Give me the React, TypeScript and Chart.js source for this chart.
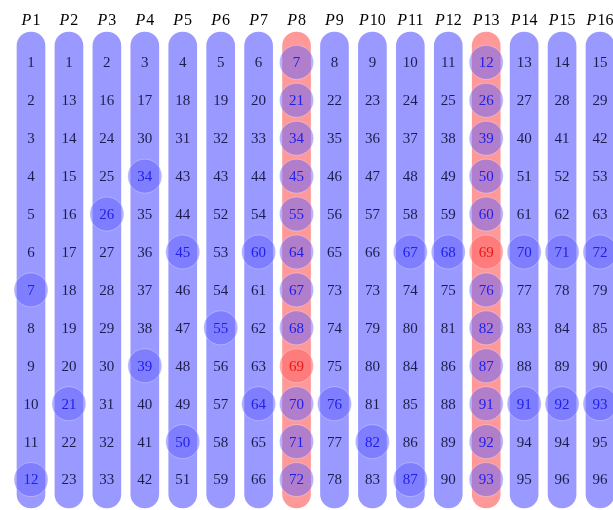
import React, { useEffect, useRef } from "react";
import { Chart, registerables } from "chart.js";

Chart.register(...registerables);

const columns = ["P1","P2","P3","P4","P5","P6","P7","P8","P9","P10","P11","P12","P13","P14","P15","P16"];
const rowIndex = [1,2,3,4,5,6,7,8,9,10,11,12];

const P1 = [1,2,3,4,5,6,7,8,9,10,11,12];
const P2 = [1,13,14,15,16,17,18,19,20,21,22,23];
const P3 = [2,16,24,25,26,27,28,29,30,31,32,33];
const P4 = [3,17,30,34,35,36,37,38,39,40,41,42];
const P5 = [4,18,31,43,44,45,46,47,48,49,50,51];
const P6 = [5,19,32,43,52,53,54,55,56,57,58,59];
const P7 = [6,20,33,44,54,60,61,62,63,64,65,66];
const P8 = [7,21,34,45,55,64,67,68,69,70,71,72];
const P9 = [8,22,35,46,56,65,73,74,75,76,77,78];
const P10 = [9,23,36,47,57,66,73,79,80,81,82,83];
const P11 = [10,24,37,48,58,67,74,80,84,85,86,87];
const P12 = [11,25,38,49,59,68,75,81,86,88,89,90];
const P13 = [12,26,39,50,60,69,76,82,87,91,92,93];
const P14 = [13,27,40,51,61,70,77,83,88,91,94,95];
const P15 = [14,28,41,52,62,71,78,84,89,92,94,96];
const P16 = [15,29,42,53,63,72,79,85,90,93,95,96];
const columnValues = [P1,P2,P3,P4,P5,P6,P7,P8,P9,P10,P11,P12,P13,P14,P15,P16];

// values circled in each column
const circledValues = [
  [7,12],[21],[26],[34,39],[45,50],[55],[60,64],
  P8,
  [76],[82],[67,87],[68],
  P13,
  [70,91],[71,92],[72,93],
];
const redColumns = ["P8","P13"];
const redValue = 69;

const Y_MIN = 0.2;
const Y_MAX = 12.75;

export default function App() {
  const ref = useRef<HTMLCanvasElement | null>(null);

  useEffect(() => {
    if (!ref.current) return;

    const circlePoints: any[] = [];
    const circleColors: string[] = [];
    columns.forEach((c, ci) => {
      columnValues[ci].forEach((v, ri) => {
        if (circledValues[ci].includes(v)) {
          circlePoints.push({ x: c, y: rowIndex[ri] });
          circleColors.push(
            redColumns.includes(c) && v === redValue
              ? "rgba(255,100,100,0.55)"
              : "rgba(100,100,255,0.5)"
          );
        }
      });
    });

    const textPlugin = {
      id: "cellText",
      afterDatasetsDraw(chart: any) {
        const ctx = chart.ctx;
        const xs = chart.scales.x;
        const ys = chart.scales.y;
        ctx.save();
        ctx.textBaseline = "middle";
        columns.forEach((c, ci) => {
          const px = xs.getPixelForValue(ci);
          ctx.textAlign = "center";
          ctx.font = '15px "Liberation Serif", "DejaVu Serif", serif';
          columnValues[ci].forEach((v, ri) => {
            const py = ys.getPixelForValue(rowIndex[ri]);
            const circled = circledValues[ci].includes(v);
            let color = "#1c1c4c";
            if (circled) color = "#2020e8";
            if (circled && redColumns.includes(c) && v === redValue) color = "#e81818";
            ctx.fillStyle = color;
            ctx.fillText(String(v), px, py + 1);
          });
          // header
          const top = chart.chartArea.top - 11;
          const num = c.slice(1);
          ctx.font = 'italic 16px "Liberation Serif", "DejaVu Serif", serif';
          const wP = ctx.measureText("P").width;
          ctx.font = '16px "Liberation Serif", "DejaVu Serif", serif';
          const wN = ctx.measureText(num).width;
          const start = px - (wP + 1 + wN) / 2;
          ctx.textAlign = "left";
          ctx.fillStyle = "#000";
          ctx.font = 'italic 16px "Liberation Serif", "DejaVu Serif", serif';
          ctx.fillText("P", start, top);
          ctx.font = '16px "Liberation Serif", "DejaVu Serif", serif';
          ctx.fillText(num, start + wP + 1, top);
        });
        ctx.restore();
      },
    };

    const chart = new Chart(ref.current, {
      type: "bar",
      data: {
        labels: columns,
        datasets: [
          {
            type: "bar",
            data: columns.map(() => [Y_MIN, Y_MAX]) as any,
            backgroundColor: columns.map((c) =>
              redColumns.includes(c) ? "rgba(255,0,0,0.4)" : "rgba(0,0,255,0.4)"
            ),
            borderWidth: 0,
            borderRadius: 14,
            borderSkipped: false,
            barThickness: 28,
            clip: false as any,
            order: 2,
          },
          {
            type: "scatter",
            data: circlePoints,
            backgroundColor: circleColors,
            borderColor: "rgba(255,255,255,0.3)",
            borderWidth: 1,
            pointRadius: 17,
            pointHoverRadius: 17,
            clip: false as any,
            order: 1,
          } as any,
        ],
      },
      options: {
        animation: false,
        responsive: false,
        maintainAspectRatio: false,
        layout: { autoPadding: false, padding: { left: 31, right: 13, top: 32, bottom: 2 } },
        plugins: { legend: { display: false }, tooltip: { enabled: false } },
        scales: {
          x: { type: "category", offset: false, display: false, grid: { display: false } },
          y: { type: "linear", reverse: true, min: Y_MIN, max: Y_MAX, display: false, grid: { display: false } },
        },
      },
      plugins: [textPlugin],
    });
    return () => chart.destroy();
  }, []);

  return (
    <div style={{ position: "absolute", left: 0, top: 0, width: 613, height: 510, background: "#fff" }}>
      <canvas ref={ref} width={613} height={510} style={{ width: 613, height: 510 }} />
    </div>
  );
}
